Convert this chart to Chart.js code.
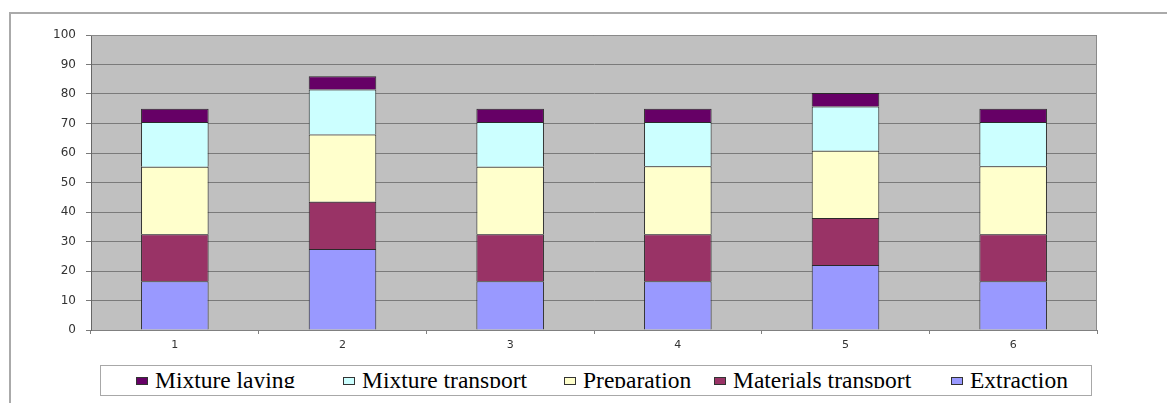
<!DOCTYPE html>
<html>
<head>
<meta charset="utf-8">
<script src="https://cdn.jsdelivr.net/npm/chart.js@4/dist/chart.umd.min.js"></script>
<style>
  html, body { margin: 0; padding: 0; background: #fff; }
  #wrap { position: relative; width: 1167px; height: 403px; overflow: hidden; }
  #frame { position: absolute; left: 9px; top: 12px; right: -5px; bottom: -5px;
           border-top: 2px solid #aaa; border-left: 2px solid #aaa; }
  #chart { position: absolute; left: 0; top: 0; }
  #legend { position: absolute; left: 100px; top: 365px; width: 990px; height: 29px;
            border: 1px solid #a8a8a8; background: #fff; }
  #legendInner { position: absolute; left: 0; top: 0; width: 100%; height: 22px; overflow: hidden; }
  .item { position: absolute; top: 0; height: 40px; white-space: nowrap;
          font-family: "Liberation Serif", "Times New Roman", serif; font-size: 23.5px; line-height: 23.5px; }
  .item .box { position: absolute; left: 0; top: 11px; width: 10px; height: 6px; border: 1px solid #333; }
  .item .txt { position: absolute; left: 19px; top: 3px; color: #000; }
</style>
</head>
<body>
<div id="wrap">
  <div id="frame"></div>
  <canvas id="chart" width="1167" height="403"></canvas>
  <div id="legend"><div id="legendInner"></div></div>
</div>
<script>
// categories and series (bottom to top of each stack)
const categories = ["1", "2", "3", "4", "5", "6"];
const extraction = [16.5, 27.5, 16.5, 16.5, 22, 16.5];
const materialsTransport = [16, 16, 16, 16, 16, 16];
const preparation = [22.8, 22.8, 22.8, 23, 22.8, 23];
const mixtureTransport = [15.2, 15.2, 15.2, 15, 15, 15];
const mixtureLaying = [4.5, 4.5, 4.5, 4.5, 4.5, 4.5];

const seriesNames = ["Extraction", "Materials transport", "Preparation", "Mixture transport", "Mixture laying"];
const seriesColors = ["#9999FF", "#993366", "#FFFFCC", "#CCFFFF", "#660066"];
const seriesData = [extraction, materialsTransport, preparation, mixtureTransport, mixtureLaying];

// legend positions (left edge of marker), in legend order
const legendOrder = [4, 3, 2, 1, 0];
const legendLefts = [35, 242, 463, 613, 850];

const plotBg = {
  id: "plotBg",
  beforeDraw(chart) {
    const { ctx, chartArea: a } = chart;
    ctx.save();
    ctx.fillStyle = "#C0C0C0";
    ctx.fillRect(a.left, a.top, a.right - a.left, a.bottom - a.top);
    ctx.restore();
  },
  afterDatasetsDraw(chart) {
    const { ctx, chartArea: a } = chart;
    ctx.save();
    ctx.strokeStyle = "#8a8a8a";
    ctx.lineWidth = 1;
    ctx.beginPath();
    ctx.moveTo(a.left, a.top + 0.5);
    ctx.lineTo(a.right - 0.5, a.top + 0.5);
    ctx.lineTo(a.right - 0.5, a.bottom);
    ctx.stroke();
    ctx.restore();
  }
};

new Chart(document.getElementById("chart"), {
  type: "bar",
  data: {
    labels: categories,
    datasets: seriesData.map((d, i) => ({
      label: seriesNames[i],
      data: d,
      backgroundColor: seriesColors[i],
      borderColor: "#2a2a2a",
      borderWidth: 1,
      categoryPercentage: 1,
      barPercentage: 0.403
    }))
  },
  options: {
    responsive: false,
    animation: false,
    devicePixelRatio: 1,
    layout: { padding: { top: 35, right: 70, bottom: 43, left: 0 } },
    plugins: { legend: { display: false }, tooltip: { enabled: false } },
    scales: {
      x: {
        stacked: true,
        grid: { drawOnChartArea: false, drawTicks: true, tickLength: 4, color: "#808080", offset: true },
        border: { color: "#808080" },
        ticks: { color: "#333", padding: 5, font: { family: "DejaVu Sans", size: 11 } },
        afterFit: s => { s.height = 30; }
      },
      y: {
        stacked: true,
        min: 0,
        max: 100,
        grid: { color: "#7a7a7a", tickLength: 5 },
        border: { color: "#666" },
        ticks: { stepSize: 10, color: "#333", padding: 10, font: { family: "DejaVu Sans", size: 12 } },
        afterFit: s => { s.width = 91; }
      }
    }
  },
  plugins: [plotBg]
});

// html legend, clipped at the bottom like the original
const inner = document.getElementById("legendInner");
legendOrder.forEach((idx, k) => {
  const item = document.createElement("div");
  item.className = "item";
  item.style.left = legendLefts[k] + "px";
  item.innerHTML = `<span class="box" style="background:${seriesColors[idx]}"></span><span class="txt">${seriesNames[idx]}</span>`;
  inner.appendChild(item);
});
</script>
</body>
</html>
